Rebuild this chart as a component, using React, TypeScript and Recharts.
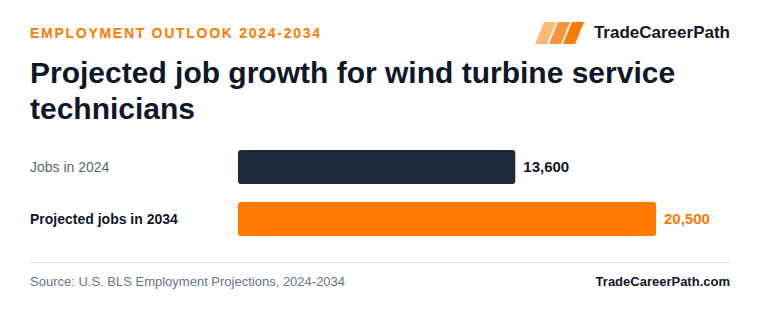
import { BarChart, Bar, XAxis, YAxis, Cell, LabelList } from "recharts";

const categories = ["Jobs in 2024", "Projected jobs in 2034"];
const jobs = [13600, 20500];
const barColors = ["#1e293b", "#ff7b00"];
const labelColors = ["#0f172a", "#ff7b00"];

const data = categories.map((label, i) => ({ label, jobs: jobs[i] }));

const FONT = '"Liberation Sans", Arial, Helvetica, sans-serif';

function CategoryTick({ y, payload, index }: any) {
  const bold = index === 1;
  return (
    <text
      x={30}
      y={y}
      dy={5}
      textAnchor="start"
      fontFamily={FONT}
      fontSize={14}
      fontWeight={bold ? 700 : 400}
      fill={bold ? "#0f172a" : "#5b6579"}
    >
      {payload.value}
    </text>
  );
}

function ValueLabel({ x, y, width, height, value, index }: any) {
  return (
    <text
      x={x + width + 8}
      y={y + height / 2}
      dy={5}
      fontFamily={FONT}
      fontSize={15}
      fontWeight={700}
      fill={labelColors[index]}
    >
      {Number(value).toLocaleString("en-US")}
    </text>
  );
}

// three slanted stripes, light to strong orange
function Logo() {
  const shades = ["#fdba74", "#fb923c", "#ff7b00"];
  return (
    <svg width={52} height={23} style={{ position: "absolute", left: 535, top: 22 }}>
      {shades.map((c, i) => {
        const o = i * 14;
        return (
          <polygon
            key={c}
            points={`${o + 9},0 ${o + 21},0 ${o + 12},22 ${o},22`}
            fill={c}
          />
        );
      })}
    </svg>
  );
}

export default function App() {
  return (
    <div
      style={{
        position: "absolute",
        left: 0,
        top: 0,
        width: 760,
        height: 318,
        background: "#ffffff",
        fontFamily: FONT,
        overflow: "hidden",
      }}
    >
      <div
        style={{
          position: "absolute",
          left: 30,
          top: 25,
          fontSize: 14,
          fontWeight: 700,
          letterSpacing: 1.72,
          color: "#ff7b00",
        }}
      >
        EMPLOYMENT OUTLOOK 2024-2034
      </div>
      <Logo />
      <div
        style={{
          position: "absolute",
          right: 30,
          top: 23,
          fontSize: 17,
          fontWeight: 700,
          color: "#111827",
        }}
      >
        TradeCareerPath
      </div>
      <div
        style={{
          position: "absolute",
          left: 30,
          top: 55,
          width: 700,
          fontSize: 30,
          lineHeight: "36px",
          fontWeight: 700,
          color: "#0f172a",
        }}
      >
        Projected job growth for wind turbine service technicians
      </div>
      <div style={{ position: "absolute", left: 0, top: 141 }}>
        <BarChart
          width={760}
          height={104}
          data={data}
          layout="vertical"
          margin={{ top: 0, right: 104, left: 0, bottom: 0 }}
        >
          <XAxis type="number" hide domain={[0, 20500]} />
          <YAxis
            type="category"
            dataKey="label"
            width={238}
            axisLine={false}
            tickLine={false}
            tick={<CategoryTick />}
          />
          <Bar dataKey="jobs" barSize={34} radius={3} isAnimationActive={false}>
            {data.map((d, i) => (
              <Cell key={d.label} fill={barColors[i]} />
            ))}
            <LabelList dataKey="jobs" content={<ValueLabel />} />
          </Bar>
        </BarChart>
      </div>
      <div
        style={{
          position: "absolute",
          left: 30,
          top: 262,
          width: 700,
          height: 1,
          background: "#e2e8f0",
        }}
      />
      <div
        style={{
          position: "absolute",
          left: 30,
          top: 274,
          fontSize: 13,
          color: "#64748b",
        }}
      >
        Source: U.S. BLS Employment Projections, 2024-2034
      </div>
      <div
        style={{
          position: "absolute",
          right: 30,
          top: 274,
          fontSize: 13,
          fontWeight: 700,
          color: "#0f172a",
        }}
      >
        TradeCareerPath.com
      </div>
    </div>
  );
}
